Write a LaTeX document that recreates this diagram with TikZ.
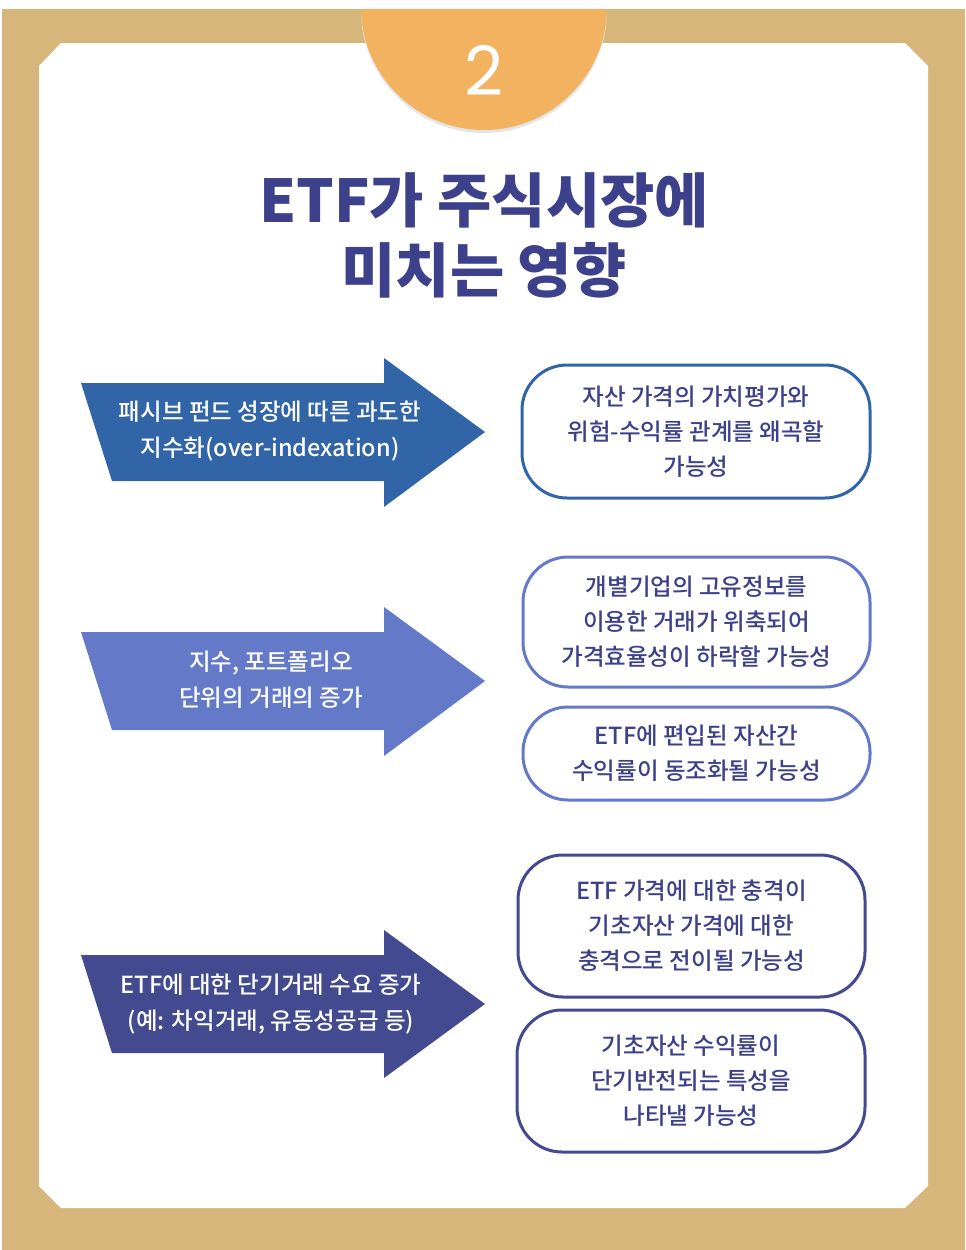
\documentclass[tikz,border=0pt]{standalone}
\usepackage{fontspec}
\setmainfont{Noto Sans CJK KR}
\newfontfamily\krmed{Noto Sans CJK KR Medium}
\newfontfamily\krblack{Noto Sans CJK KR Black}
\newfontfamily\numfont{Poppins}
\definecolor{gold}{HTML}{D6B67B}
\definecolor{orangec}{HTML}{F2B260}
\definecolor{navy}{HTML}{3D408A}
\definecolor{cone}{HTML}{3264A8}
\definecolor{ctwo}{HTML}{6479C8}
\definecolor{cthree}{HTML}{444A90}
\begin{document}
\begin{tikzpicture}[x=1pt,y=-1pt,
  boxtxt/.style={font=\krmed\fontsize{23.5}{35}\selectfont, text=navy, align=center},
  arrtxt/.style={font=\krmed\fontsize{23.5}{36}\selectfont, text=white, align=center},
  pill/.style={draw=#1, line width=3pt, fill=white, rounded corners=45pt, inner sep=0pt}]
\useasboundingbox (0,0) rectangle (966,1250);
\fill[white] (0,0) rectangle (966,1250);
% frame
\fill[gold] (2,9) rectangle (965,1250);
\fill[white] (61,43) -- (905,43) -- (928,66) -- (928,1186) -- (905,1208) -- (61,1208) -- (39,1186) -- (39,66) -- cycle;
% number badge
\begin{scope}
\clip (0,9) rectangle (966,300);
\fill[black!10] (484,10) circle (123);
\fill[orangec] (484,7) circle (123);
\end{scope}
\node[font=\numfont\fontsize{68}{68}\selectfont, text=white] (num) at (484,70) {2};
% title
\node[font=\krblack\fontsize{59}{70}\selectfont, text=navy, align=center] (title) at (484,235) {ETF가 주식시장에\\미치는 영향};
% arrows
\fill[cone] (81,383) -- (384,383) -- (384,358) -- (485,432) -- (384,507) -- (384,481) -- (112,481) -- cycle;
\fill[ctwo] (81,632) -- (384,632) -- (384,607) -- (485,681) -- (384,756) -- (384,730) -- (112,730) -- cycle;
\fill[cthree] (81,955) -- (384,955) -- (384,930) -- (485,1004) -- (384,1078) -- (384,1053) -- (112,1053) -- cycle;
\node[arrtxt] (a1) at (270,431) {패시브 펀드 성장에 따른 과도한\\지수화(over-indexation)};
\node[arrtxt] (a2) at (271,680) {지수, 포트폴리오\\단위의 거래의 증가};
\node[arrtxt] (a3) at (271,1004) {ETF에 대한 단기거래 수요 증가\\(예: 차익거래, 유동성공급 등)};
% boxes
\node[pill=cone, minimum width=348pt, minimum height=133pt] (b1) at (696,431.5) {};
\node[boxtxt] (t1) at (b1.center) {자산 가격의 가치평가와\\위험-수익률 관계를 왜곡할\\가능성};
\node[pill=ctwo, minimum width=347pt, minimum height=130pt] (b2) at (696.5,622) {};
\node[boxtxt] (t2) at (b2.center) {개별기업의 고유정보를\\이용한 거래가 위축되어\\가격효율성이 하락할 가능성};
\node[pill=ctwo, minimum width=347pt, minimum height=93pt] (b3) at (696.5,753.5) {};
\node[boxtxt] (t3) at (b3.center) {ETF에 편입된 자산간\\수익률이 동조화될 가능성};
\node[pill=cthree, minimum width=347pt, minimum height=142pt] (b4) at (691.5,926) {};
\node[boxtxt] (t4) at (b4.center) {ETF 가격에 대한 충격이\\기초자산 가격에 대한\\충격으로 전이될 가능성};
\node[pill=cthree, minimum width=348pt, minimum height=142pt] (b5) at (691,1081) {};
\node[boxtxt] (t5) at (b5.center) {기초자산 수익률이\\단기반전되는 특성을\\나타낼 가능성};
\end{tikzpicture}
\end{document}
